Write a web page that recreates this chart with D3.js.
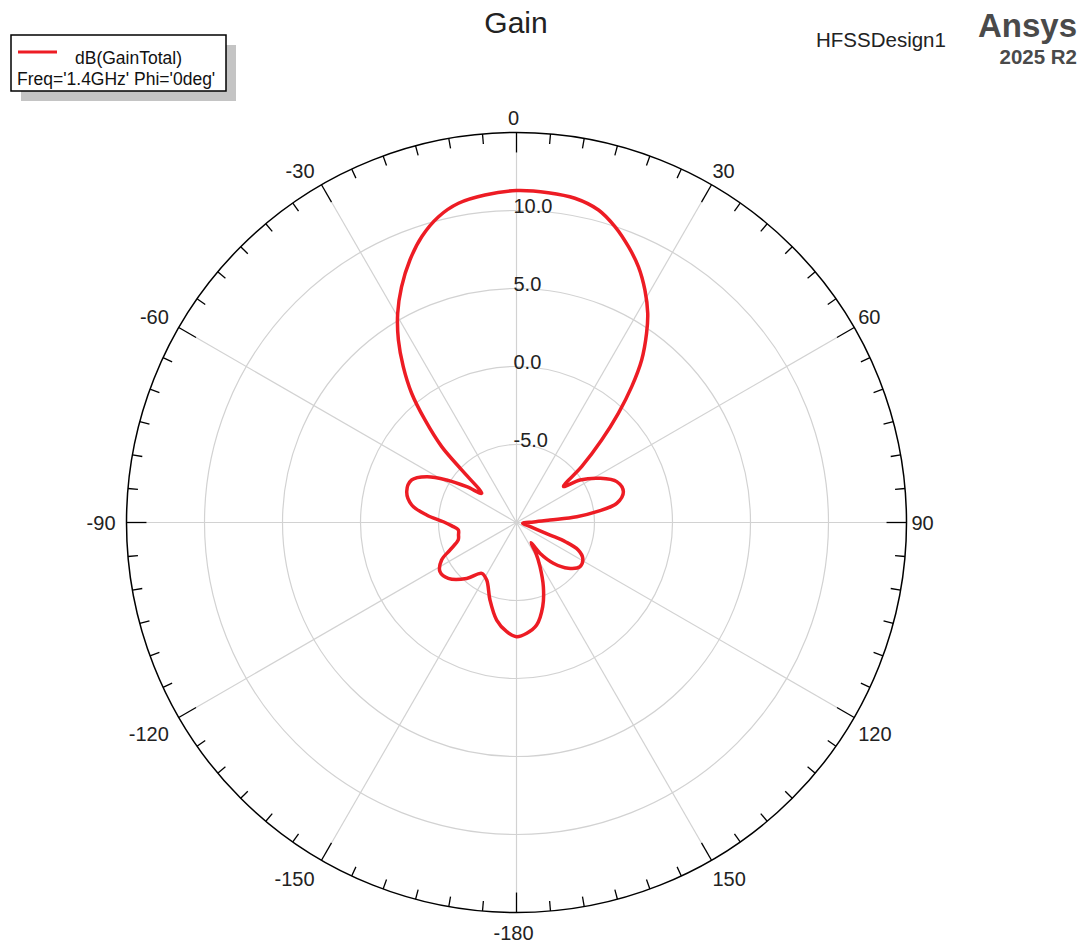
<!DOCTYPE html>
<html><head><meta charset="utf-8">
<script src="https://cdn.jsdelivr.net/npm/d3@7"></script>
<style>body{margin:0;background:#fff} text{font-family:"Liberation Sans",Arial,sans-serif}</style>
</head><body><svg id="chart" width="1092" height="945"></svg>
<script>
// Theta (deg, 0 at top, clockwise) and gain (dB)
const thetaDeg = [-180,-174.9,-168.5,-161.1,-152.6,-145.6,-138.3,-129.3,-122.7,-116.6,-112.5,-106.7,-102,-97.3,-93,-89.4,-85.2,-80.5,-74.3,-67.9,-63.0,-58.7,-54.3,-50.0,-46.2,-44.6,-41.75,-39.05,-36.0,-32.9,-29.6,-26.0,-22.1,-18.35,-14.3,-10.3,-5.5,0,5.5,10.2,14.7,18.4,22.1,25.5,28.9,32.1,34.5,37.6,40.3,43.0,45.9,49.4,52.5,56.2,62.1,67.8,73.9,79.2,82.3,84.5,85.7,88,92,97,102,106,109,110.5,111.5,114,118.4,124.8,131.5,137.9,142.7,144.3,147.7,152,157.3,162.7,168.9,174.7];
const gainDb = [-2.68,-2.97,-3.62,-4.75,-5.85,-6.05,-5.2,-4.35,-4.17,-4.63,-5.38,-6.1,-6.2,-6.24,-5.85,-5.31,-4.22,-3.19,-2.69,-2.75,-3.54,-4.76,-6.07,-7.09,-5.13,-3.17,-1.19,0.67,2.35,3.94,5.42,6.81,8.16,9.3,10.23,10.8,11.09,11.28,11.24,11.12,10.71,9.99,9.08,8.16,7.03,5.83,4.72,3.15,1.42,-0.43,-2.4,-4.5,-6.2,-5.1,-3.94,-3.06,-2.87,-3.46,-4.81,-6.12,-7.85,-8.9,-9.5,-9.6,-9.5,-9.2,-8.6,-7.7,-6.6,-5.67,-5.17,-5.04,-5.57,-6.48,-7.52,-8.4,-7.66,-6.79,-5.54,-4.35,-3.3,-2.87];
const ringValues = [-5, 0, 5, 10];
const ringLabels = ["-5.0", "0.0", "5.0", "10.0"];
const angleTickValues = [0, 30, 60, 90, 120, 150, 180, -150, -120, -90, -60, -30];
const angleTickLabels = ["0", "30", "60", "90", "120", "150", "-180", "-150", "-120", "-90", "-60", "-30"];
const radialDomain = [-10, 15];
const legendLines = ["dB(GainTotal)", "Freq='1.4GHz' Phi='0deg'"];

const svg = d3.select("#chart");
const cx = 516.5, cy = 522.5, R = 390;
const r = d3.scaleLinear().domain(radialDomain).range([0, R]).clamp(true);
const rad = d => d * Math.PI / 180;
const g = svg.append("g").attr("transform", `translate(${cx},${cy})`);

// rings
g.selectAll("circle.ring").data(ringValues).join("circle")
  .attr("r", d => r(d)).attr("fill", "none").attr("stroke", "#d2d2d2").attr("stroke-width", 1.2);
// spokes
const spokes = d3.range(0, 360, 30);
g.selectAll("line.spoke").data(spokes).join("line")
  .attr("x1", 0).attr("y1", 0)
  .attr("x2", d => (R - 20) * Math.sin(rad(d)))
  .attr("y2", d => -(R - 20) * Math.cos(rad(d)))
  .attr("stroke", "#d2d2d2").attr("stroke-width", 1.2);
// outer circle
g.append("circle").attr("r", R).attr("fill", "none").attr("stroke", "#000").attr("stroke-width", 1.5);
// ticks
const ticks = d3.range(0, 360, 5);
g.selectAll("line.tick").data(ticks).join("line")
  .attr("x1", d => R * Math.sin(rad(d))).attr("y1", d => -R * Math.cos(rad(d)))
  .attr("x2", d => (R - (d % 30 === 0 ? 20 : 10)) * Math.sin(rad(d)))
  .attr("y2", d => -(R - (d % 30 === 0 ? 20 : 10)) * Math.cos(rad(d)))
  .attr("stroke", "#000").attr("stroke-width", 1.3);
// angle labels: anchored at the text corner nearest the circle
const Rl = 398, capH = 14.3, xShift = -3;
g.selectAll("text.ang").data(angleTickValues).join("text")
  .attr("x", d => xShift + Rl * Math.sin(rad(d)))
  .attr("y", d => {
    const c = Math.cos(rad(d)), y = -Rl * c;
    if (c > 0.01) return y;
    if (c < -0.01) return y + capH + 5;
    return y + capH / 2;
  })
  .attr("text-anchor", d => {
    const s = Math.sin(rad(d));
    return s > 0.01 ? "start" : (s < -0.01 ? "end" : "middle");
  })
  .attr("font-size", 20).attr("fill", "#222")
  .text((d, i) => angleTickLabels[i]);
// ring labels
g.selectAll("text.rl").data(ringValues).join("text")
  .attr("x", -3).attr("y", d => -r(d) + 2)
  .attr("font-size", 20).attr("fill", "#222")
  .text((d, i) => ringLabels[i]);

// curve
const pts = thetaDeg.map((t, i) => ({t, v: gainDb[i]}));
const line = d3.lineRadial()
  .angle(d => rad(d.t))
  .radius(d => r(d.v))
  .curve(d3.curveCatmullRomClosed.alpha(0.5));
g.append("path").attr("d", line(pts)).attr("fill", "none")
  .attr("stroke", "#ed1c24").attr("stroke-width", 3.5).attr("stroke-linejoin", "round");

// title & branding
svg.append("text").attr("x", 516).attr("y", 33).attr("text-anchor", "middle")
  .attr("font-size", 30).attr("fill", "#222").text("Gain");
svg.append("text").attr("x", 816).attr("y", 47).attr("font-size", 20.5).attr("fill", "#222").text("HFSSDesign1");
svg.append("text").attr("x", 1077).attr("y", 37).attr("text-anchor", "end")
  .attr("font-size", 33).attr("font-weight", "bold").attr("fill", "#4a4a4a").text("Ansys");
svg.append("text").attr("x", 1077).attr("y", 64).attr("text-anchor", "end")
  .attr("font-size", 20.5).attr("font-weight", "bold").attr("fill", "#4a4a4a").text("2025 R2");

// legend
svg.append("rect").attr("x", 21).attr("y", 45).attr("width", 215).attr("height", 56).attr("fill", "#c4c4c4");
svg.append("rect").attr("x", 11).attr("y", 35).attr("width", 215).attr("height", 56)
  .attr("fill", "#fff").attr("stroke", "#000").attr("stroke-width", 1.5);
svg.append("line").attr("x1", 18).attr("x2", 57).attr("y1", 52).attr("y2", 52)
  .attr("stroke", "#ed1c24").attr("stroke-width", 3);
svg.append("text").attr("x", 75).attr("y", 64).attr("font-size", 17.5).attr("fill", "#111").text(legendLines[0]);
svg.append("text").attr("x", 17).attr("y", 85).attr("font-size", 17.5).attr("fill", "#111").text(legendLines[1]);
</script></body></html>
